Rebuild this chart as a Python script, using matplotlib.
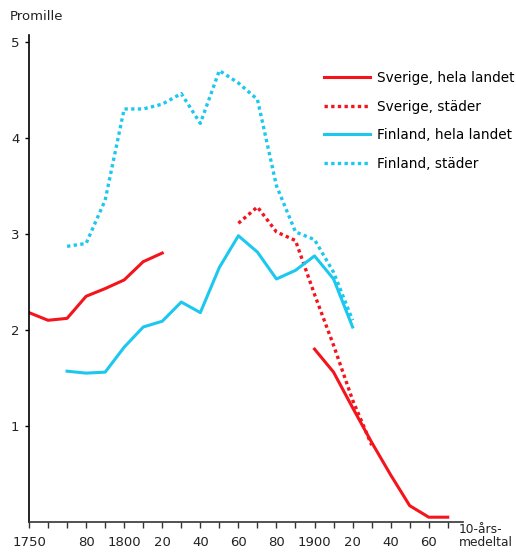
import matplotlib
matplotlib.use("Agg")
import matplotlib.pyplot as plt
import numpy as np

# decennial averages, per mille
sv_years_early = [1750, 1760, 1770, 1780, 1790, 1800, 1810, 1820]
sv_hela_early = [2.18, 2.10, 2.12, 2.35, 2.43, 2.52, 2.71, 2.80]
sv_years_late = [1900, 1910, 1920, 1930, 1940, 1950, 1960, 1970]
sv_hela_late = [1.80, 1.56, 1.19, 0.83, 0.49, 0.17, 0.05, 0.05]

sv_stader_years = [1860, 1870, 1880, 1890, 1900, 1910, 1920, 1930]
sv_stader = [3.11, 3.28, 3.02, 2.93, 2.37, 1.84, 1.27, 0.80]

fi_years = [1770, 1780, 1790, 1800, 1810, 1820, 1830, 1840,
            1850, 1860, 1870, 1880, 1890, 1900, 1910, 1920]
fi_hela = [1.57, 1.55, 1.56, 1.82, 2.03, 2.09, 2.29, 2.18,
           2.65, 2.98, 2.81, 2.53, 2.62, 2.77, 2.53, 2.03]
fi_stader = [2.87, 2.90, 3.35, 4.30, 4.30, 4.35, 4.46, 4.15,
             4.70, 4.57, 4.40, 3.50, 3.02, 2.94, 2.60, 2.10]

tick_years = list(range(1750, 1980, 10))
tick_labels = ["1750", "", "", "80", "", "1800", "", "20", "", "40", "", "60",
               "", "80", "", "1900", "", "20", "", "40", "", "60", ""]

red = "#f4141c"
cyan = "#1cc8ef"
dot = (0, (1, 1))

fig = plt.figure(figsize=(5.16, 5.53), dpi=100)
ax = fig.add_axes([29 / 516, 1 - 522 / 553, (463 - 29) / 516, (522 - 35) / 553])

ax.plot(sv_years_early, sv_hela_early, color=red, lw=2.2, label="Sverige, hela landet")
ax.plot(sv_years_late, sv_hela_late, color=red, lw=2.2)
ax.plot(sv_stader_years, sv_stader, color=red, lw=2.4, ls=dot, label="Sverige, städer")
ax.plot(fi_years, fi_hela, color=cyan, lw=2.2, label="Finland, hela landet")
ax.plot(fi_years, fi_stader, color=cyan, lw=2.4, ls=dot, label="Finland, städer")

ax.set_xlim(1750, 1978)
ax.set_ylim(0, 5.07)
ax.set_xticks(tick_years)
ax.set_xticklabels(tick_labels, fontsize=9.5)
ax.set_yticks([1, 2, 3, 4, 5])
ax.set_yticklabels(["1", "2", "3", "4", "5"], fontsize=9.5)
ax.tick_params(axis="x", direction="out", length=4, width=1, pad=6, colors="#333333", labelcolor="#222222")
ax.tick_params(axis="y", direction="out", length=3, width=1, pad=4, labelcolor="#222222")

for s in ["top", "right"]:
    ax.spines[s].set_visible(False)
ax.spines["left"].set_linewidth(1.2)
ax.spines["bottom"].set_linewidth(1.2)
ax.spines["bottom"].set_color("#333333")

fig.text(10 / 516, 1 - 17 / 553, "Promille", fontsize=9.5, va="center", ha="left", color="#222222")
fig.text(459 / 516, 1 - 523 / 553, "10-års-\nmedeltal", fontsize=8.8, va="top", ha="left",
         color="#222222", linespacing=1.0)

ax.legend(loc="upper left", bbox_to_anchor=(324 / 516, 1 - 71 / 553),
          bbox_transform=fig.transFigure, frameon=False, fontsize=9.8,
          handlelength=3.4, handletextpad=0.5, labelspacing=1.07,
          borderpad=0, borderaxespad=0)

fig.savefig("out.png", dpi=100)
